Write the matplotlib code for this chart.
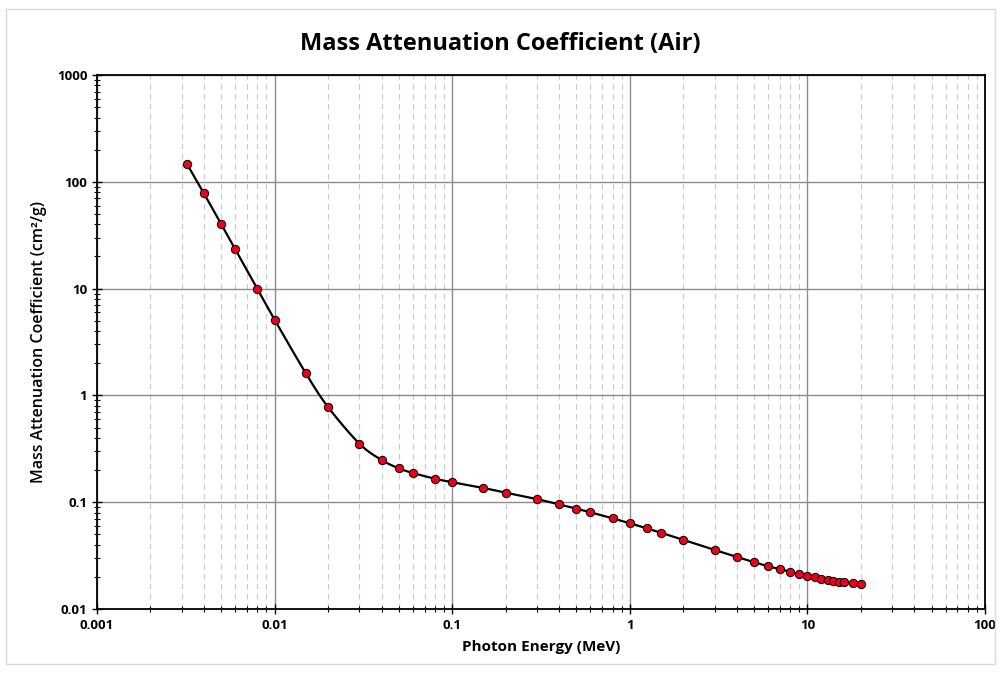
import matplotlib
matplotlib.use("Agg")
import matplotlib.pyplot as plt
import numpy as np
from matplotlib.patches import Rectangle
from matplotlib.ticker import LogLocator, FixedLocator, NullFormatter

plt.rcParams['font.family'] = ['Open Sans', 'DejaVu Sans']

# Photon energy (MeV) and mass attenuation coefficient of air (cm^2/g)
energy = [0.0032, 0.004, 0.005, 0.006, 0.008, 0.01, 0.015, 0.02, 0.03, 0.04,
          0.05, 0.06, 0.08, 0.1, 0.15, 0.2, 0.3, 0.4, 0.5, 0.6, 0.8,
          1.0, 1.25, 1.5, 2.0, 3.0, 4.0, 5.0, 6.0, 7.0, 8.0, 9.0, 10.0,
          11.0, 12.0, 13.0, 14.0, 15.0, 16.0, 18.0, 20.0]
mu_rho = [148.5, 77.9, 40.3, 23.4, 9.92, 5.12, 1.61, 0.778, 0.354, 0.249,
          0.208, 0.188, 0.166, 0.154, 0.136, 0.123, 0.107, 0.0955, 0.0871, 0.0806, 0.0707,
          0.0636, 0.0569, 0.0518, 0.0445, 0.0358, 0.0308, 0.0275, 0.0252, 0.0236, 0.0223, 0.0213, 0.0205,
          0.0199, 0.0193, 0.0188, 0.0184, 0.0181, 0.0178, 0.0174, 0.0171]

x_ticks = [0.001, 0.01, 0.1, 1, 10, 100]
x_labels = ["0.001", "0.01", "0.1", "1", "10", "100"]
y_ticks = [0.01, 0.1, 1, 10, 100, 1000]
y_labels = ["0.01", "0.1", "1", "10", "100", "1000"]


def smooth_line(xs, ys, n=12):
    # Catmull-Rom through the points in log space, like a smoothed spreadsheet line
    lx, ly = np.log10(xs), np.log10(ys)
    px = np.concatenate([[lx[0]], lx, [lx[-1]]])
    py = np.concatenate([[ly[0]], ly, [ly[-1]]])
    outx, outy = [], []
    t = np.linspace(0, 1, n, endpoint=False)
    for i in range(1, len(px) - 2):
        for p, out in ((px, outx), (py, outy)):
            p0, p1, p2, p3 = p[i - 1], p[i], p[i + 1], p[i + 2]
            out.extend(0.5 * (2 * p1 + (-p0 + p2) * t
                              + (2 * p0 - 5 * p1 + 4 * p2 - p3) * t ** 2
                              + (-p0 + 3 * p1 - 3 * p2 + p3) * t ** 3))
    outx.append(lx[-1])
    outy.append(ly[-1])
    return 10 ** np.array(outx), 10 ** np.array(outy)


fig = plt.figure(figsize=(10, 6.73), dpi=100)
fig.patches.append(Rectangle((0.006, 0.014), 0.989, 0.972, transform=fig.transFigure,
                             fill=False, edgecolor='#d9d9d9', linewidth=1))
ax = fig.add_axes([0.097, 0.095, 0.888, 0.7935])

ax.set_xscale('log')
ax.set_yscale('log')
ax.set_xlim(0.001, 100)
ax.set_ylim(0.01, 1000)

ax.xaxis.set_major_locator(FixedLocator(x_ticks))
ax.set_xticklabels(x_labels)
ax.yaxis.set_major_locator(FixedLocator(y_ticks))
ax.set_yticklabels(y_labels)
ax.xaxis.set_minor_locator(LogLocator(base=10, subs=range(2, 10), numticks=20))
ax.yaxis.set_minor_locator(LogLocator(base=10, subs=range(2, 10), numticks=20))
ax.xaxis.set_minor_formatter(NullFormatter())
ax.yaxis.set_minor_formatter(NullFormatter())

ax.grid(which='major', color='#8c8c8c', linewidth=1.0)
ax.grid(which='minor', axis='x', color='#c8c8c8', linewidth=0.8, linestyle=(0, (5, 4)))
ax.set_axisbelow(True)

ax.tick_params(which='major', direction='inout', length=7, width=1, labelsize=9.5)
ax.tick_params(which='minor', direction='inout', length=4, width=0.8)
ax.tick_params(axis='x', which='both', top=False)
ax.tick_params(axis='y', which='both', right=False)
for lab in ax.get_xticklabels() + ax.get_yticklabels():
    lab.set_fontweight('bold')

for side in ['left', 'bottom', 'top', 'right']:
    ax.spines[side].set_color('black')
    ax.spines[side].set_linewidth(1.3)

sx, sy = smooth_line(energy, mu_rho)
ax.plot(sx, sy, color='black', linewidth=1.6, zorder=3)
ax.plot(energy, mu_rho, linestyle='none', marker='o', markersize=6,
        markerfacecolor='#e8001c', markeredgecolor='black', markeredgewidth=0.7, zorder=4)

ax.set_xlabel("Photon Energy (MeV)", fontsize=11, fontweight='bold', labelpad=6)
ax.set_ylabel("Mass Attenuation Coefficient (cm\u00b2/g)", fontsize=11.5, fontweight='semibold', labelpad=7)
fig.text(0.5, 0.935, "Mass Attenuation Coefficient (Air)", ha='center', va='center',
         fontsize=17, fontweight='bold')

fig.savefig("out.png", dpi=100)
